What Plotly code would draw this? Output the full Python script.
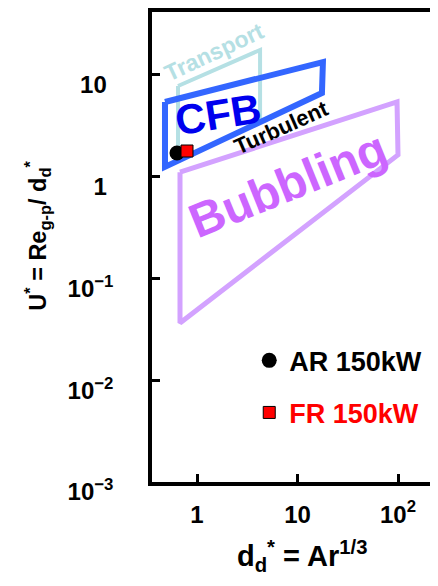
import math
import plotly.graph_objects as go

# ---- data ----
transport_x = [0.647, 4.24, 4.24, 0.647, 0.647]
transport_y = [7.8, 17.6, 3.45, 1.46, 7.8]

cfb_x = [0.48, 17.9, 17.5, 0.48, 0.48]
cfb_y = [5.43, 13.4, 6.65, 1.25, 5.43]

bubbling_x = [0.677, 97.8, 100.0, 0.677, 0.677]
bubbling_y = [1.11, 5.43, 1.64, 0.0366, 1.11]

ar_x = [0.632]
ar_y = [1.71]
fr_x = [0.795]
fr_y = [1.79]

# region label anchors (data units)
label_text = ["Transport", "CFB", "Turbulent", "Bubbling"]
label_x = [1.476, 1.62, 6.85, 8.04]
label_y = [16.8, 4.05, 3.08, 0.83]

x_tickvals = [1, 10, 100]
x_ticktext = ["1", "10", "10<sup>2</sup>"]
y_tickvals = [10, 1, 0.1, 0.01, 0.001]
y_ticktext = ["10&nbsp;", "1&nbsp;", "10<sup>−1</sup>", "10<sup>−2</sup>", "10<sup>−3</sup>"]

FONT = "Liberation Sans, Arial, sans-serif"

fig = go.Figure()

fig.add_trace(go.Scatter(x=transport_x, y=transport_y, mode="lines",
                         line=dict(color="#b5e0e4", width=4),
                         showlegend=False, hoverinfo="skip"))
fig.add_trace(go.Scatter(x=cfb_x, y=cfb_y, mode="lines",
                         line=dict(color="#3366ff", width=6),
                         showlegend=False, hoverinfo="skip"))
fig.add_trace(go.Scatter(x=bubbling_x, y=bubbling_y, mode="lines",
                         line=dict(color="#d3a2ff", width=5),
                         showlegend=False, hoverinfo="skip"))

fig.add_trace(go.Scatter(x=ar_x, y=ar_y, mode="markers", name="AR 150kW",
                         legendgroup="ar",
                         marker=dict(symbol="circle", size=15, color="black")))
fig.add_trace(go.Scatter(x=fr_x, y=fr_y, mode="markers",
                         name="<span style='color:#ff0000'>FR 150kW</span>",
                         legendgroup="fr",
                         marker=dict(symbol="square", size=12, color="#ff0000",
                                     line=dict(color="black", width=1))))

label_style = [
    dict(color="#b5e0e4", size=23, angle=-25),
    dict(color="#0000ee", size=42, angle=-9),
    dict(color="black", size=22, angle=-24),
    dict(color="#cc66ff", size=48, angle=-22),
]
for t, lx, ly, st in zip(label_text, label_x, label_y, label_style):
    fig.add_annotation(x=math.log10(lx), y=math.log10(ly), xref="x", yref="y",
                       text=t, showarrow=False, textangle=st["angle"],
                       xanchor="center", yanchor="middle",
                       font=dict(family=FONT, size=st["size"], color=st["color"],
                                 weight="bold"))

# axis titles
fig.add_annotation(x=0.524, y=-0.158, xref="paper", yref="paper",
                   text="d<sub>d</sub><sup>*</sup> = Ar<sup>1/3</sup>",
                   showarrow=False, xanchor="center", yanchor="middle",
                   font=dict(family=FONT, size=29, color="black", weight="bold"))
fig.add_annotation(x=-0.40, y=0.523, xref="paper", yref="paper",
                   text="U<sup>*</sup> = Re<sub>g-p</sub>/ d<sub>d</sub><sup>*</sup>",
                   showarrow=False, textangle=-90,
                   xanchor="center", yanchor="middle",
                   font=dict(family=FONT, size=23.5, color="black", weight="bold"))

# page body has an 8px default margin: shrink the figure to compensate
fig.update_layout(
    width=430, height=578,
    margin=dict(l=144, r=0, t=4, b=104),
    paper_bgcolor="white", plot_bgcolor="white",
    font=dict(family=FONT, color="black"),
    legend=dict(x=0.34, y=0.31, xanchor="left", yanchor="top",
                bgcolor="rgba(0,0,0,0)", tracegroupgap=14,
                font=dict(family=FONT, size=27, color="black", weight="bold")),
)
fig.update_xaxes(type="log", range=[-0.448, 2.398],
                 tickvals=x_tickvals, ticktext=x_ticktext,
                 ticks="inside", ticklen=8, tickwidth=3, tickcolor="black",
                 showline=True, linewidth=3.5, linecolor="black", mirror=True,
                 showgrid=False, zeroline=False, ticklabelstandoff=8,
                 tickfont=dict(family=FONT, size=24, color="black", weight="bold"))
fig.update_yaxes(type="log", range=[-3.0, 1.619],
                 tickvals=y_tickvals, ticktext=y_ticktext,
                 ticks="inside", ticklen=8, tickwidth=3, tickcolor="black",
                 showline=True, linewidth=3.5, linecolor="black", mirror=False,
                 showgrid=False, zeroline=False, ticklabelstandoff=30,
                 ticklabelshift=10,
                 tickfont=dict(family=FONT, size=24, color="black", weight="bold"))

fig.write_html("out.html")
